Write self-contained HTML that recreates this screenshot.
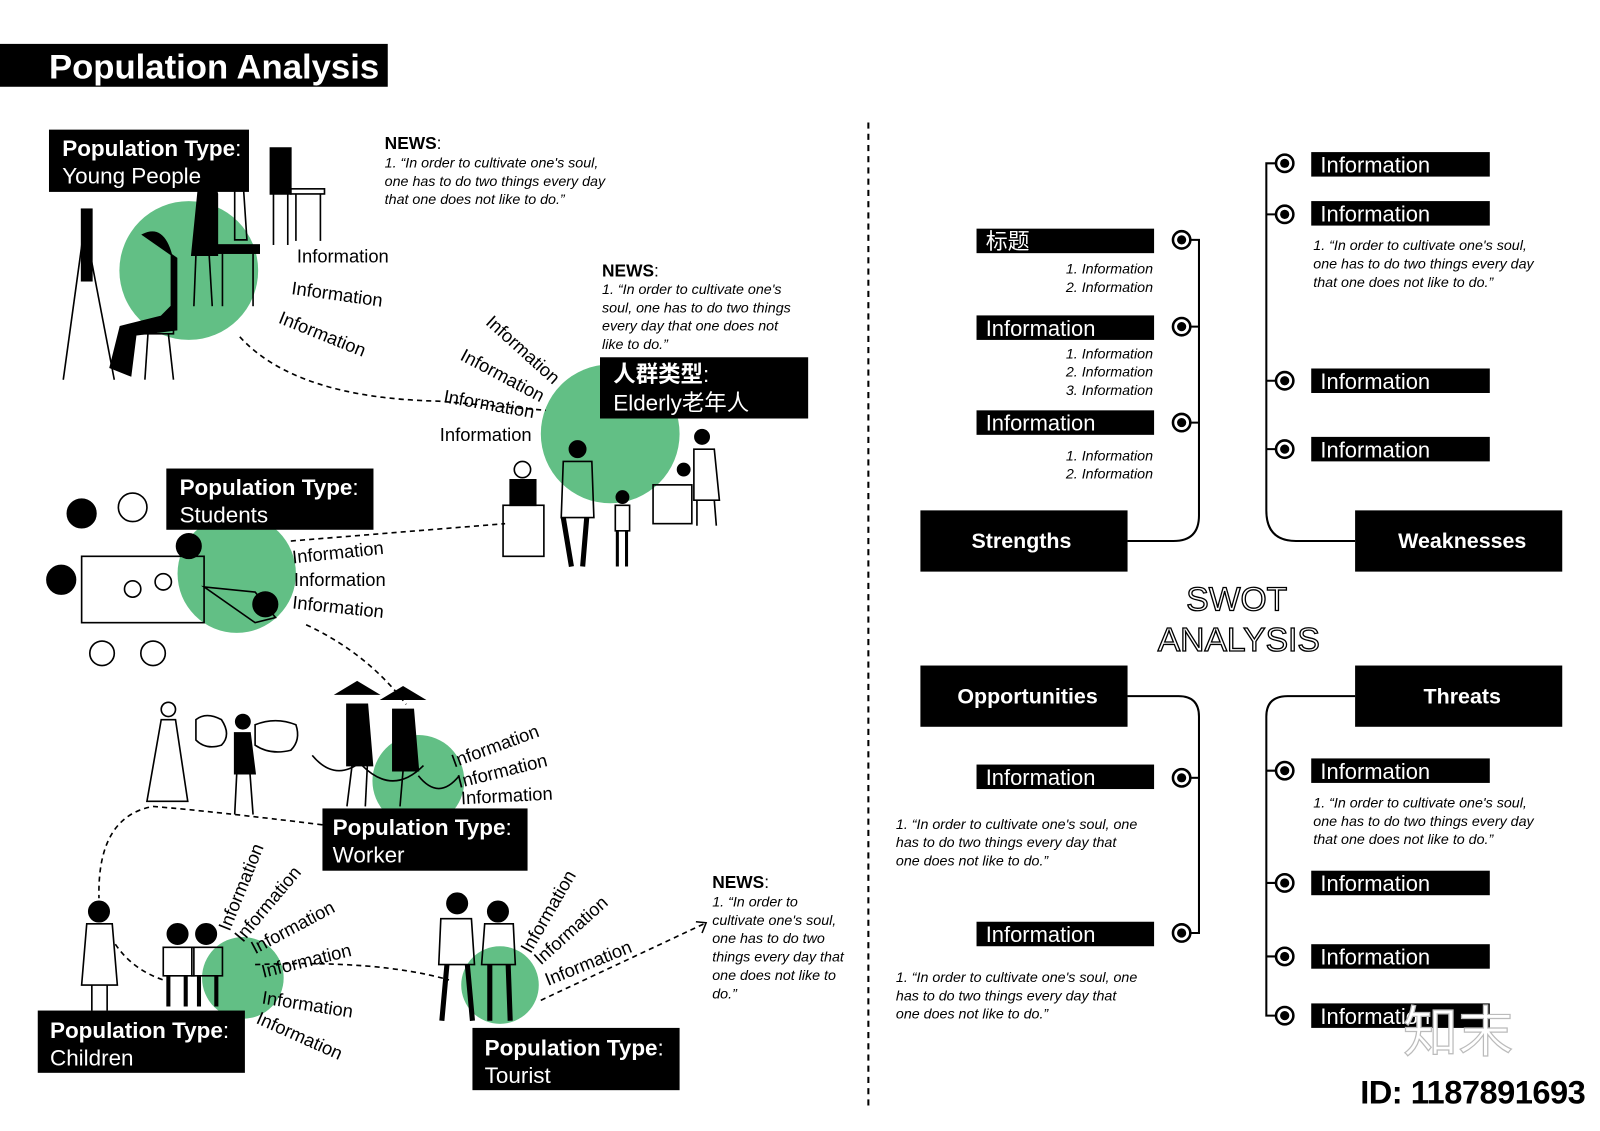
<!DOCTYPE html>
<html><head><meta charset="utf-8"><style>
html,body{margin:0;padding:0;background:#fff;width:1600px;height:1131px;overflow:hidden}
svg{display:block}
text{font-family:"Liberation Sans","Noto Sans CJK SC",sans-serif}
.b{fill:#000}
.w{fill:#fff}
.i{font-style:italic;font-size:14px}
.inf{font-size:18px}
.dash{fill:none;stroke:#000;stroke-width:1.6;stroke-dasharray:5 4}
.ln{fill:none;stroke:#000;stroke-width:2}
.fig{fill:none;stroke:#000;stroke-width:1.6}
.g{fill:#62bf85}
.sb{font-size:21.5px}
</style></head><body>
<svg width="1600" height="1131" viewBox="0 0 1568 1108" preserveAspectRatio="none" xmlns="http://www.w3.org/2000/svg">
<rect width="1568" height="1108" fill="#fff"/>
<rect x="0" y="43" width="380" height="42" class="b"/>
<text x="48" y="77" class="w" font-size="34" font-weight="bold">Population Analysis</text>
<line x1="851" y1="120" x2="851" y2="1088" stroke="#000" stroke-width="2" stroke-dasharray="6 5"/>

<circle cx="185" cy="265" r="68" class="g"/>
<circle cx="598" cy="425" r="68" class="g"/>
<circle cx="232" cy="562" r="58" class="g"/>
<circle cx="410" cy="765" r="45" class="g"/>
<circle cx="238" cy="958" r="40" class="g"/>
<circle cx="490" cy="965" r="38" class="g"/>

<g class="fig">
<line x1="80" y1="205" x2="112" y2="372"/><line x1="85" y1="205" x2="62" y2="372"/><rect x="80" y="205" width="10" height="70" fill="#000"/>
<path d="M140 230 q20 -10 28 20 l0 50 l-10 10 l-40 10 l-10 40 l20 8 l5 -40 l40 -5 l0 -70 z" fill="#000"/>
<rect x="140" y="322" width="30" height="5"/><line x1="145" y1="327" x2="142" y2="372"/><line x1="165" y1="327" x2="170" y2="372"/>
<path d="M195 180 q15 -5 18 10 l0 60 l-25 0 z" fill="#000"/><line x1="192" y1="250" x2="190" y2="300"/><line x1="205" y1="250" x2="208" y2="300"/>
<rect x="212" y="240" width="42" height="8" fill="#000"/><line x1="218" y1="248" x2="218" y2="300"/><line x1="248" y1="248" x2="248" y2="300"/>
<path d="M230 175 l8 0 l4 60 l-12 0 z"/>
<path d="M265 145 l20 0 l0 45 l-20 0 z" fill="#000"/><line x1="268" y1="190" x2="268" y2="240"/><line x1="282" y1="190" x2="282" y2="240"/>
<rect x="285" y="185" width="33" height="5"/><line x1="290" y1="190" x2="290" y2="236"/><line x1="314" y1="190" x2="314" y2="236"/>
<path d="M500 470 l25 0 l0 25 l-25 0 z" fill="#000"/><circle cx="512" cy="460" r="8"/><rect x="493" y="495" width="40" height="50"/>
<circle cx="566" cy="440" r="8" fill="#000"/><path d="M552 452 l28 0 l2 55 l-32 0 z"/><path d="M552 507 l8 48 M575 507 l-4 48" stroke-width="5"/>
<circle cx="610" cy="487" r="6" fill="#000"/><path d="M603 495 l14 0 l0 25 l-14 0 z"/><path d="M605 520 l0 35 M614 520 l0 35" stroke-width="3"/>
<circle cx="688" cy="428" r="7" fill="#000"/><path d="M680 440 l20 0 l5 50 l-25 0 z"/><path d="M683 490 l0 25 M700 490 l2 25"/>
<rect x="640" y="475" width="38" height="38"/><circle cx="670" cy="460" r="6" fill="#000"/>
<rect x="80" y="545" width="120" height="65"/>
<circle cx="60" cy="568" r="14" fill="#000"/><circle cx="80" cy="503" r="14" fill="#000"/><circle cx="130" cy="497" r="14"/><circle cx="185" cy="535" r="12" fill="#000"/>
<circle cx="260" cy="592" r="12" fill="#000"/><path d="M200 575 l50 5 l20 25 l-20 5 z"/>
<circle cx="100" cy="640" r="12"/><circle cx="150" cy="640" r="12"/><circle cx="130" cy="577" r="8"/><circle cx="160" cy="570" r="8"/>
<path d="M330 680 l20 -12 l20 12 z" fill="#000"/><path d="M375 685 l20 -12 l20 12 z" fill="#000"/>
<path d="M340 690 l20 0 l5 60 l-25 0 z" fill="#000"/><path d="M385 695 l20 0 l5 60 l-25 0 z" fill="#000"/>
<path d="M306 740 q25 30 55 0" /><path d="M355 750 q30 30 60 0"/><path d="M410 760 q20 25 40 0"/>
<line x1="345" y1="750" x2="340" y2="790"/><line x1="360" y1="750" x2="358" y2="790"/><line x1="395" y1="755" x2="392" y2="790"/>
<circle cx="165" cy="695" r="7"/><path d="M158 705 l14 0 l12 80 l-40 0 z"/>
<path d="M192 705 q10 -8 25 0 q10 15 0 25 q-15 5 -25 -5z"/><path d="M250 710 q20 -8 40 0 q5 15 -5 25 q-20 5 -35 -5z"/>
<circle cx="238" cy="707" r="7" fill="#000"/><path d="M230 718 l15 0 l5 40 l-20 0 z" fill="#000"/><path d="M232 758 l-2 40 M245 758 l3 40"/>
<circle cx="97" cy="893" r="10" fill="#000"/><path d="M85 905 l25 0 l5 60 l-35 0 z"/><path d="M90 965 l0 25 M105 965 l0 25"/>
<circle cx="174" cy="915" r="10" fill="#000"/><circle cx="202" cy="915" r="10" fill="#000"/>
<path d="M160 928 l30 0 l0 28 l-30 0 z"/><path d="M188 928 l30 0 l0 28 l-30 0 z"/>
<path d="M165 956 l0 30 M182 956 l0 30 M195 956 l0 30 M212 956 l0 30" stroke-width="4"/>
<circle cx="448" cy="885" r="10" fill="#000"/><circle cx="488" cy="893" r="10" fill="#000"/>
<path d="M432 900 l30 0 l3 45 l-35 0 z"/><path d="M475 905 l28 0 l2 40 l-33 0 z"/>
<path d="M438 945 l-5 55 M458 945 l5 55 M480 945 l0 55 M498 945 l2 55" stroke-width="5"/>
</g>

<path class="dash" d="M235 330 Q290 390 430 393 L535 402"/>
<path class="dash" d="M285 530 L495 513"/>
<path class="dash" d="M300 612 Q360 640 398 690"/>
<path class="dash" d="M316 808 Q210 795 150 790 Q95 800 97 880"/>
<path class="dash" d="M113 925 Q130 950 160 960"/>
<path class="dash" d="M250 945 Q370 940 440 960"/>
<path class="dash" d="M530 980 L690 905"/>
<path d="M682 903 L692 904 L688 914" fill="none" stroke="#000" stroke-width="1.5"/>

<rect x="48" y="127" width="196" height="61" class="b"/>
<text x="61" y="153" class="w" font-size="22" font-weight="bold">Population Type<tspan font-weight="normal">:</tspan></text>
<text x="61" y="180" class="w" font-size="22">Young People</text>

<rect x="588" y="350" width="204" height="60" class="b"/>
<text x="601" y="374" class="w" font-size="22" font-weight="bold">人群类型<tspan font-weight="normal">:</tspan></text>
<text x="601" y="402" class="w" font-size="22">Elderly老年人</text>

<rect x="163" y="459" width="203" height="60" class="b"/>
<text x="176" y="485" class="w" font-size="22" font-weight="bold">Population Type<tspan font-weight="normal">:</tspan></text>
<text x="176" y="512" class="w" font-size="22">Students</text>

<rect x="316" y="792" width="201" height="61" class="b"/>
<text x="326" y="818" class="w" font-size="22" font-weight="bold">Population Type<tspan font-weight="normal">:</tspan></text>
<text x="326" y="845" class="w" font-size="22">Worker</text>

<rect x="37" y="990" width="203" height="61" class="b"/>
<text x="49" y="1017" class="w" font-size="22" font-weight="bold">Population Type<tspan font-weight="normal">:</tspan></text>
<text x="49" y="1044" class="w" font-size="22">Children</text>

<rect x="463" y="1007" width="203" height="61" class="b"/>
<text x="475" y="1034" class="w" font-size="22" font-weight="bold">Population Type<tspan font-weight="normal">:</tspan></text>
<text x="475" y="1061" class="w" font-size="22">Tourist</text>

<text x="377" y="146" font-size="17" font-weight="bold">NEWS<tspan font-weight="normal">:</tspan></text>
<text class="i"><tspan x="377" y="164">1. “In order to cultivate one's soul,</tspan><tspan x="377" y="182">one has to do two things every day</tspan><tspan x="377" y="200">that one does not like to do.”</tspan></text>
<text x="590" y="271" font-size="17" font-weight="bold">NEWS<tspan font-weight="normal">:</tspan></text>
<text class="i"><tspan x="590" y="288">1. “In order to cultivate one's</tspan><tspan x="590" y="306">soul, one has to do two things</tspan><tspan x="590" y="324">every day that one does not</tspan><tspan x="590" y="342">like to do.”</tspan></text>
<text x="698" y="870" font-size="17" font-weight="bold">NEWS<tspan font-weight="normal">:</tspan></text>
<text class="i"><tspan x="698" y="888">1. “In order to</tspan><tspan x="698" y="906">cultivate one's soul,</tspan><tspan x="698" y="924">one has to do two</tspan><tspan x="698" y="942">things every day that</tspan><tspan x="698" y="960">one does not like to</tspan><tspan x="698" y="978">do.”</tspan></text>

<g class="inf">
<text x="291" y="257">Information</text>
<text transform="translate(285,288) rotate(8)">Information</text>
<text transform="translate(272,316) rotate(22)">Information</text>
<text transform="translate(475,317) rotate(42)">Information</text>
<text transform="translate(450,352) rotate(28)">Information</text>
<text transform="translate(434,394) rotate(10)">Information</text>
<text x="431" y="432">Information</text>
<text transform="translate(287,552) rotate(-6)">Information</text>
<text x="288" y="574">Information</text>
<text transform="translate(286,596) rotate(6)">Information</text>
<text transform="translate(445,752) rotate(-20)">Information</text>
<text transform="translate(450,772) rotate(-14)">Information</text>
<text transform="translate(452,788) rotate(-3)">Information</text>
<text transform="translate(225,913) rotate(-68)">Information</text>
<text transform="translate(238,924) rotate(-50)">Information</text>
<text transform="translate(250,935) rotate(-28)">Information</text>
<text transform="translate(258,958) rotate(-14)">Information</text>
<text transform="translate(256,983) rotate(9)">Information</text>
<text transform="translate(250,1002) rotate(24)">Information</text>
<text transform="translate(520,935) rotate(-60)">Information</text>
<text transform="translate(530,946) rotate(-42)">Information</text>
<text transform="translate(537,966) rotate(-22)">Information</text>
</g>

<path class="ln" d="M1166 235 H1175 V505 Q1175 530 1150 530 H1105"/>
<path class="ln" d="M1166 320 H1175 M1166 414 H1175"/>
<path class="ln" d="M1250 160 H1241 V500 Q1241 530 1270 530 H1328"/>
<path class="ln" d="M1250 210 H1241 M1250 373 H1241 M1250 440 H1241"/>
<path class="ln" d="M1105 682 H1155 Q1175 682 1175 702 V914 H1166"/>
<path class="ln" d="M1166 762 H1175"/>
<path class="ln" d="M1328 682 H1262 Q1241 682 1241 702 V995 H1250"/>
<path class="ln" d="M1250 755 H1241 M1250 865 H1241 M1250 937 H1241"/>

<g stroke="#000" stroke-width="2.5" fill="#fff">
<circle cx="1158" cy="235" r="8.5"/><circle cx="1158" cy="320" r="8.5"/><circle cx="1158" cy="414" r="8.5"/>
<circle cx="1158" cy="762" r="8.5"/><circle cx="1158" cy="914" r="8.5"/>
<circle cx="1259" cy="160" r="8.5"/><circle cx="1259" cy="210" r="8.5"/><circle cx="1259" cy="373" r="8.5"/><circle cx="1259" cy="440" r="8.5"/>
<circle cx="1259" cy="755" r="8.5"/><circle cx="1259" cy="865" r="8.5"/><circle cx="1259" cy="937" r="8.5"/><circle cx="1259" cy="995" r="8.5"/>
</g>
<g fill="#000">
<circle cx="1158" cy="235" r="4.5"/><circle cx="1158" cy="320" r="4.5"/><circle cx="1158" cy="414" r="4.5"/>
<circle cx="1158" cy="762" r="4.5"/><circle cx="1158" cy="914" r="4.5"/>
<circle cx="1259" cy="160" r="4.5"/><circle cx="1259" cy="210" r="4.5"/><circle cx="1259" cy="373" r="4.5"/><circle cx="1259" cy="440" r="4.5"/>
<circle cx="1259" cy="755" r="4.5"/><circle cx="1259" cy="865" r="4.5"/><circle cx="1259" cy="937" r="4.5"/><circle cx="1259" cy="995" r="4.5"/>
</g>

<rect x="902" y="500" width="203" height="60" class="b"/><text x="1001" y="537" class="w" font-size="21" font-weight="bold" text-anchor="middle">Strengths</text>
<rect x="1328" y="500" width="203" height="60" class="b"/><text x="1433" y="537" class="w" font-size="21" font-weight="bold" text-anchor="middle">Weaknesses</text>
<rect x="902" y="652" width="203" height="60" class="b"/><text x="1007" y="689" class="w" font-size="21" font-weight="bold" text-anchor="middle">Opportunities</text>
<rect x="1328" y="652" width="203" height="60" class="b"/><text x="1433" y="689" class="w" font-size="21" font-weight="bold" text-anchor="middle">Threats</text>

<text x="1212" y="598" font-size="33" text-anchor="middle" fill="#fff" stroke="#000" stroke-width="1.3">SWOT</text>
<text x="1214" y="638" font-size="33" text-anchor="middle" fill="#fff" stroke="#000" stroke-width="1.3">ANALYSIS</text>

<g>
<rect x="957" y="224" width="174" height="24" class="b"/><text x="966" y="244" class="w sb">标题</text>
<rect x="957" y="309" width="174" height="24" class="b"/><text x="966" y="329" class="w sb">Information</text>
<rect x="957" y="402" width="174" height="24" class="b"/><text x="966" y="422" class="w sb">Information</text>
<rect x="957" y="749" width="174" height="24" class="b"/><text x="966" y="769" class="w sb">Information</text>
<rect x="957" y="903" width="174" height="24" class="b"/><text x="966" y="923" class="w sb">Information</text>
<rect x="1285" y="149" width="175" height="24" class="b"/><text x="1294" y="169" class="w sb">Information</text>
<rect x="1285" y="197" width="175" height="24" class="b"/><text x="1294" y="217" class="w sb">Information</text>
<rect x="1285" y="361" width="175" height="24" class="b"/><text x="1294" y="381" class="w sb">Information</text>
<rect x="1285" y="428" width="175" height="24" class="b"/><text x="1294" y="448" class="w sb">Information</text>
<rect x="1285" y="743" width="175" height="24" class="b"/><text x="1294" y="763" class="w sb">Information</text>
<rect x="1285" y="853" width="175" height="24" class="b"/><text x="1294" y="873" class="w sb">Information</text>
<rect x="1285" y="925" width="175" height="24" class="b"/><text x="1294" y="945" class="w sb">Information</text>
<rect x="1285" y="983" width="175" height="24" class="b"/><text x="1294" y="1003" class="w sb">Information</text>
</g>

<g class="i" text-anchor="end">
<text x="1130" y="268">1. Information</text><text x="1130" y="286">2. Information</text>
<text x="1130" y="351">1. Information</text><text x="1130" y="369">2. Information</text><text x="1130" y="387">3. Information</text>
<text x="1130" y="451">1. Information</text><text x="1130" y="469">2. Information</text>
</g>
<text class="i"><tspan x="1287" y="245">1. “In order to cultivate one's soul,</tspan><tspan x="1287" y="263">one has to do two things every day</tspan><tspan x="1287" y="281">that one does not like to do.”</tspan></text>
<text class="i"><tspan x="1287" y="791">1. “In order to cultivate one's soul,</tspan><tspan x="1287" y="809">one has to do two things every day</tspan><tspan x="1287" y="827">that one does not like to do.”</tspan></text>
<text class="i"><tspan x="878" y="812">1. “In order to cultivate one's soul, one</tspan><tspan x="878" y="830">has to do two things every day that</tspan><tspan x="878" y="848">one does not like to do.”</tspan></text>
<text class="i"><tspan x="878" y="962">1. “In order to cultivate one's soul, one</tspan><tspan x="878" y="980">has to do two things every day that</tspan><tspan x="878" y="998">one does not like to do.”</tspan></text>

<text x="1375" y="1030" font-size="54" fill="#fff" stroke="#bbb" stroke-width="1.2">知末</text>
<text x="1333" y="1081" font-size="32" font-weight="bold" letter-spacing="-0.5">ID: 1187891693</text>
</svg>
</body></html>
